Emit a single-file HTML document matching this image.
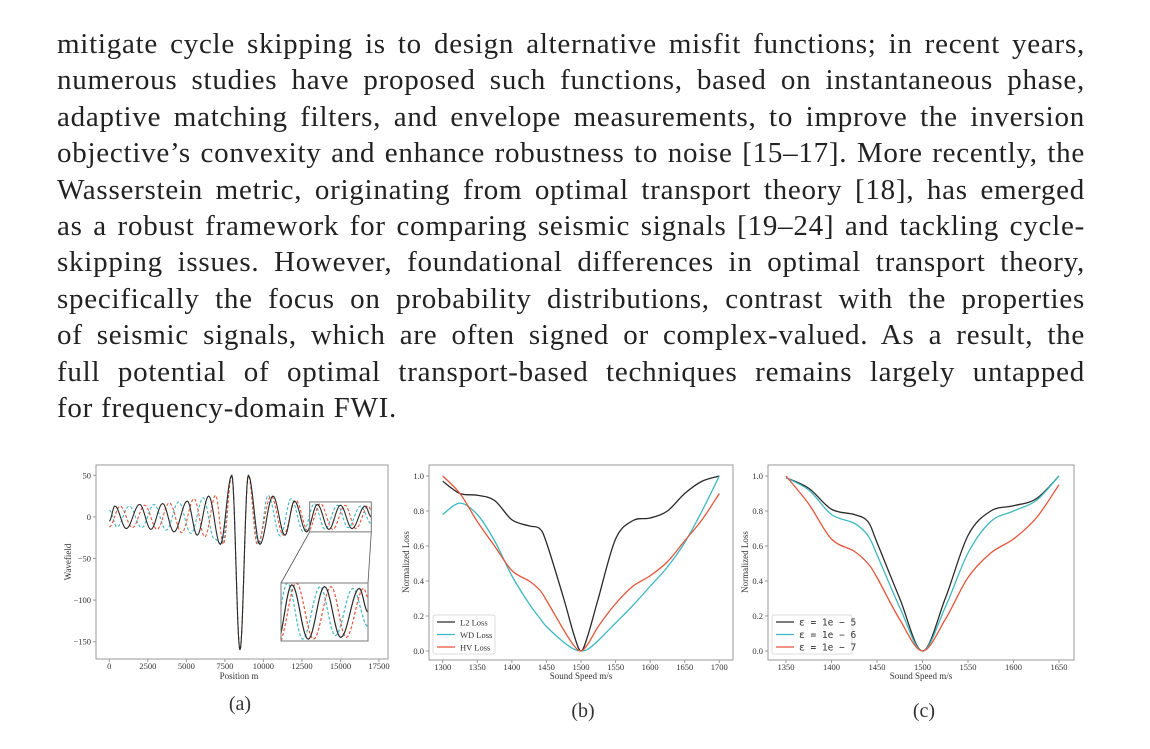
<!DOCTYPE html>
<html><head><meta charset="utf-8"><style>
html,body{margin:0;padding:0;background:#fff;}
body{width:1150px;height:749px;position:relative;overflow:hidden;font-family:"Liberation Serif",serif;}
#para{position:absolute;left:57px;top:26px;width:1028px;font-size:29px;letter-spacing:0.75px;line-height:36.4px;color:#222;}
#para div{text-align:justify;text-align-last:justify;white-space:nowrap;height:36.4px;overflow:visible;}
#para div.last{text-align-last:left;}
svg{position:absolute;left:0;top:0;}
svg text{font-family:"Liberation Serif",serif;fill:#333;}
</style></head><body>
<div id="para">
<div>mitigate cycle skipping is to design alternative misfit functions; in recent years,</div>
<div>numerous studies have proposed such functions, based on instantaneous phase,</div>
<div>adaptive matching filters, and envelope measurements, to improve the inversion</div>
<div>objective’s convexity and enhance robustness to noise [15–17]. More recently, the</div>
<div>Wasserstein metric, originating from optimal transport theory [18], has emerged</div>
<div>as a robust framework for comparing seismic signals [19–24] and tackling cycle-</div>
<div>skipping issues. However, foundational differences in optimal transport theory,</div>
<div>specifically the focus on probability distributions, contrast with the properties</div>
<div>of seismic signals, which are often signed or complex-valued. As a result, the</div>
<div>full potential of optimal transport-based techniques remains largely untapped</div>
<div class="last">for frequency-domain FWI.</div>
</div>
<svg id="fig" width="1150" height="749" xmlns="http://www.w3.org/2000/svg"></svg>
<script>
// ---- Panel (a) data: extrema (position m, value) ----
const aBlackX=[0,360,1100,1970,2700,3460,4200,5060,5700,6450,7200,7950,8480,9020,9770,10620,11400,12010,12800,13500,14250,15000,15750,16600,17000];
const aBlackY=[-5,13,-14,15,-15,16,-18,19,-22,25,-33,50,-160,50,-33,25,-22,19,-18,15,-15,14,-14,13,0];
const aCyanX=[0,500,1300,2100,2900,3700,4500,5300,6100,6800,7300,7950,8480,9020,9700,10300,11100,11800,12600,13300,14000,14800,15500,16300,17000];
const aCyanY=[8,-12,13,-13,15,-16,18,-20,23,-26,-33,50,-160,50,-33,26,-23,22,-18,16,-15,14,-13,13,-8];
const aOrangeX=[0,700,1500,2300,3100,3900,4700,5500,6200,6900,7400,7950,8480,9020,9600,10500,11300,12100,12900,13700,14500,15300,16000,16800,17000];
const aOrangeY=[-12,13,-13,14,-15,17,-19,22,-24,26,-33,50,-160,50,-33,25,-22,20,-17,16,-15,14,-14,13,8];
const aXTicks=[0,2500,5000,7500,10000,12500,15000,17500];
const aYTicks=[50,0,-50,-100,-150];
// ---- Panel (b) data ----
const bX=[1300,1325,1350,1375,1400,1425,1440,1450,1475,1490,1500,1510,1525,1550,1575,1600,1625,1650,1675,1700];
const bL2=[0.97,0.90,0.89,0.86,0.75,0.715,0.70,0.62,0.30,0.09,0,0.09,0.30,0.64,0.745,0.76,0.80,0.90,0.97,1.0];
const bWD=[0.78,0.845,0.78,0.63,0.43,0.27,0.19,0.14,0.05,0.01,0,0.01,0.06,0.16,0.26,0.37,0.48,0.62,0.80,1.0];
const bHV=[1.0,0.90,0.74,0.60,0.46,0.40,0.35,0.29,0.12,0.03,0,0.04,0.14,0.27,0.37,0.43,0.51,0.63,0.75,0.90];
const bXTicks=[1300,1350,1400,1450,1500,1550,1600,1650,1700];
const lossYTicks=[0.0,0.2,0.4,0.6,0.8,1.0];
// ---- Panel (c) data ----
const cX=[1350,1375,1400,1425,1440,1450,1475,1500,1525,1550,1575,1600,1625,1650];
const cE5=[0.99,0.93,0.81,0.78,0.74,0.62,0.30,0,0.30,0.66,0.80,0.83,0.87,1.0];
const cE6=[0.99,0.92,0.78,0.73,0.66,0.55,0.25,0,0.25,0.56,0.74,0.80,0.86,1.0];
const cE7=[1.0,0.84,0.64,0.57,0.50,0.42,0.18,0,0.18,0.42,0.56,0.64,0.76,0.95];
const cXTicks=[1350,1400,1450,1500,1550,1600,1650];

const NS="http://www.w3.org/2000/svg";
const svg=document.getElementById('fig');
const BLK="#2a2a2a",CYN="#3fb8c2",ORG="#e5553a",FR="#9a9a9a";
function mk(tag,attrs,parent){const e=document.createElementNS(NS,tag);for(const k in attrs)e.setAttribute(k,attrs[k]);(parent||svg).appendChild(e);return e;}
function lin(d0,d1,r0,r1){return v=>r0+(v-d0)*(r1-r0)/(d1-d0);}
function smoothPath(pts){let d="M"+pts[0][0].toFixed(2)+","+pts[0][1].toFixed(2);
 for(let i=0;i<pts.length-1;i++){const p0=pts[i-1]||pts[i],p1=pts[i],p2=pts[i+1],p3=pts[i+2]||p2;
  const c1=[p1[0]+(p2[0]-p0[0])/6,p1[1]+(p2[1]-p0[1])/6],c2=[p2[0]-(p3[0]-p1[0])/6,p2[1]-(p3[1]-p1[1])/6];
  d+="C"+c1[0].toFixed(2)+","+c1[1].toFixed(2)+" "+c2[0].toFixed(2)+","+c2[1].toFixed(2)+" "+p2[0].toFixed(2)+","+p2[1].toFixed(2);}
 return d;}
function extremaPath(xs,ys,sx,sy){let pts=[];
 for(let i=0;i<xs.length-1;i++){for(let k=0;k<12;k++){const t=k/12,w=(1-Math.cos(Math.PI*t))/2;
  pts.push([sx(xs[i]+(xs[i+1]-xs[i])*t),sy(ys[i]+(ys[i+1]-ys[i])*w)]);}}
 pts.push([sx(xs[xs.length-1]),sy(ys[ys.length-1])]);
 return "M"+pts.map(p=>p[0].toFixed(2)+","+p[1].toFixed(2)).join("L");}
function txt(x,y,s,size,anchor,parent,name){const t=mk('text',{x:x,y:y,'font-size':size,'text-anchor':anchor||'middle'},parent);t.textContent=s;
 
 return t;}
function frame(x0,y0,x1,y1,name){const r=mk('rect',{x:x0,y:y0,width:x1-x0,height:y1-y0,fill:'none',stroke:FR,'stroke-width':1});
 
 }
function ticksX(vals,sx,yb,fmt){vals.forEach(v=>{mk('line',{x1:sx(v),x2:sx(v),y1:yb,y2:yb+3,stroke:FR});txt(sx(v),yb+10,fmt(v),8.5,'middle',null,'x-tick-label');});}
function ticksY(vals,sy,xl,fmt){vals.forEach(v=>{mk('line',{x1:xl-3,x2:xl,y1:sy(v),y2:sy(v),stroke:FR});txt(xl-5,sy(v)+3,fmt(v),8.5,'end',null,'y-tick-label');});}

// ===== Panel (a) =====
(function(){
 const sx=lin(0,17500,109.3,379),sy=lin(50,-150,475.3,641.7);
 frame(96,465,388,659,'panel-a-axes');
 ticksX(aXTicks,sx,659,v=>String(v));
 ticksY(aYTicks,sy,96,v=>v<0?"\u2212"+(-v):String(v));
 txt(239,679,"Position m",9,'middle',null,'x-axis-title');
 const yl=txt(0,0,"Wavefield",9,'middle',null,'y-axis-title');yl.setAttribute('transform','translate(71,562) rotate(-90)');
 const g=mk('g',{});
 const series=[[aCyanX,aCyanY,CYN,'3,2'],[aOrangeX,aOrangeY,ORG,'3,2'],[aBlackX,aBlackY,BLK,'']];
 series.forEach(s=>{const p=mk('path',{d:extremaPath(s[0],s[1],sx,sy),fill:'none',stroke:s[2],'stroke-width':1.1,'stroke-dasharray':s[3]},g);
  });
 const zx0=13000,zx1=17000,zy0=18,zy1=-18;
 mk('rect',{x:sx(zx0),y:sy(zy0),width:sx(zx1)-sx(zx0),height:sy(zy1)-sy(zy0),fill:'none',stroke:'#777','stroke-width':1});
 const ix0=281,ix1=368,iy0=583,iy1=641;
 mk('line',{x1:sx(zx0),y1:sy(zy1),x2:ix0,y2:iy0,stroke:'#555','stroke-width':0.8});
 mk('line',{x1:sx(zx1),y1:sy(zy1),x2:ix1,y2:iy0,stroke:'#555','stroke-width':0.8});
 mk('clipPath',{id:'insclip'}).appendChild(document.createElementNS(NS,'rect'));
 const cr=svg.querySelector('#insclip rect');cr.setAttribute('x',ix0);cr.setAttribute('y',iy0);cr.setAttribute('width',ix1-ix0);cr.setAttribute('height',iy1-iy0);
 mk('rect',{x:ix0,y:iy0,width:ix1-ix0,height:iy1-iy0,fill:'#fff',stroke:'none'});
 const isx=lin(zx0,zx1,ix0,ix1),isy=lin(16,-16,iy0,iy1);
 const gi=mk('g',{'clip-path':'url(#insclip)'});
 series.forEach(s=>{mk('path',{d:extremaPath(s[0],s[1],isx,isy),fill:'none',stroke:s[2],'stroke-width':1.2,'stroke-dasharray':s[3]},gi);});
 mk('rect',{x:ix0,y:iy0,width:ix1-ix0,height:iy1-iy0,fill:'none',stroke:'#777','stroke-width':1});
 txt(240,710,"(a)",20,'middle',null,'caption-a');
})();

function lossPanel(x0,x1,dx0,dx1,px0,px1,xs,seriesList,xticks,legendLabels,cap,capX,name){
 const sx=lin(dx0,dx1,px0,px1),sy=lin(0,1,651,476);
 frame(x0,465,x1,660,name+'-axes');
 ticksX(xticks,sx,660,v=>String(v));
 ticksY(lossYTicks,sy,x0,v=>v.toFixed(1));
 txt((x0+x1)/2,679,"Sound Speed m/s",9,'middle',null,'x-axis-title');
 const yl=txt(0,0,"Normalized Loss",9,'middle',null,'y-axis-title');yl.setAttribute('transform','translate('+(x0-20)+',562) rotate(-90)');
 const cols=[BLK,CYN,ORG];
 seriesList.forEach((ys,i)=>{const p=mk('path',{d:smoothPath(xs.map((x,j)=>[sx(x),sy(ys[j])])),fill:'none',stroke:cols[i],'stroke-width':1.3});
  });
 const lb=mk('rect',{x:x0+4,y:615,width:legendLabels.w,height:39,fill:'#fff','fill-opacity':0.8,stroke:'#ddd',rx:2});
 
 legendLabels.items.forEach((s,i)=>{const y=622+i*12.5;mk('line',{x1:x0+8,x2:x0+26,y1:y,y2:y,stroke:cols[i],'stroke-width':1.3});
  const t=txt(x0+31,y+3.5,s,legendLabels.fs,'start',null,'legend-entry');if(legendLabels.mono)t.style.fontFamily='"DejaVu Sans Mono","Liberation Mono",monospace';});
 txt(capX,717,cap,20,'middle',null,'caption');
}
lossPanel(429,733,1300,1700,442.7,719.3,bX,[bL2,bWD,bHV],bXTicks,{w:62,fs:8.5,items:["L2 Loss","WD Loss","HV Loss"]},"(b)",583,'panel-b');
lossPanel(768,1074,1350,1650,786,1059,cX,[cE5,cE6,cE7],cXTicks,{w:80,fs:9.5,mono:true,items:["\u03b5 = 1e \u2212 5","\u03b5 = 1e \u2212 6","\u03b5 = 1e \u2212 7"]},"(c)",924,'panel-c');
</script>
</body></html>
